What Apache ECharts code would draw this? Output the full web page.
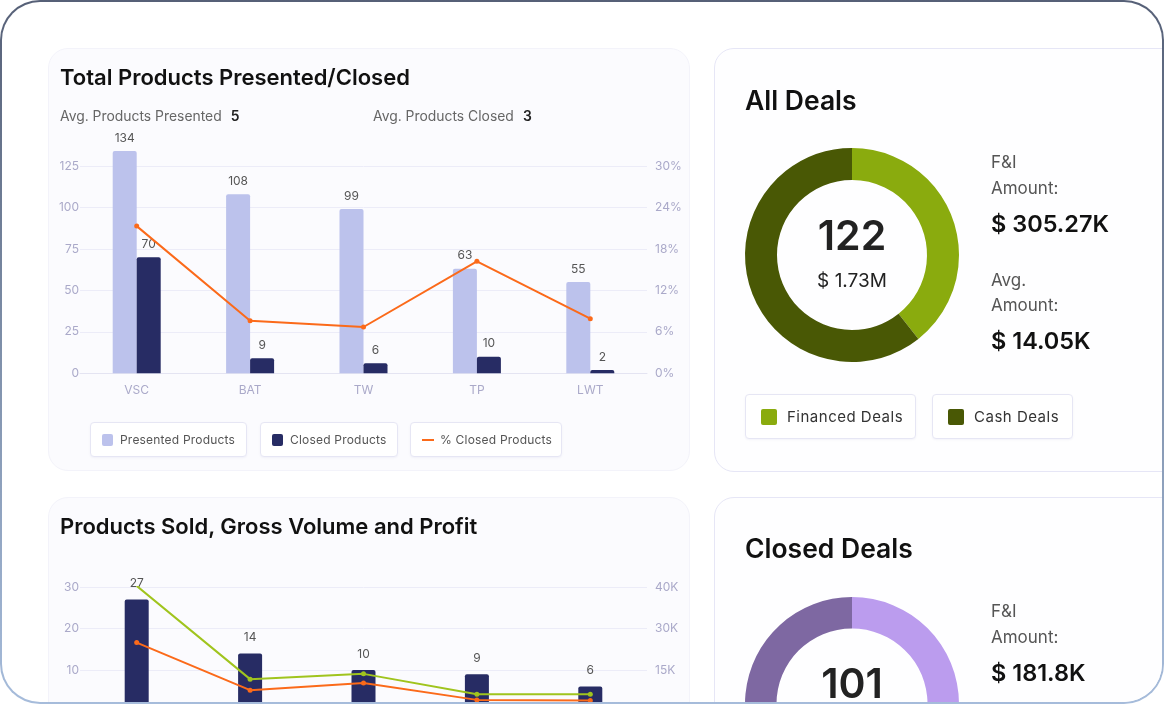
<!DOCTYPE html>
<html><head><meta charset="utf-8">
<script src="https://cdn.jsdelivr.net/npm/echarts/dist/echarts.min.js"></script>
<style>
html,body{margin:0;padding:0;width:1164px;height:704px;overflow:hidden;background:#fff;font-family:Inter,Roboto,sans-serif;}
#frame{position:absolute;left:0;top:0;width:1164px;height:704px;box-sizing:border-box;border-radius:40px;background:linear-gradient(#566077,#7f90aa 50%,#a6bcdb);padding:2px;}
#inner{position:relative;width:100%;height:100%;border-radius:38px;background:#fff;overflow:hidden;}
#page{position:absolute;left:-2px;top:-2px;width:1164px;height:704px;}
#chart{position:absolute;left:0;top:0;width:1164px;height:800px;}
.t{position:absolute;white-space:nowrap;}
.panel{position:absolute;border-radius:20px;box-sizing:border-box;}
.lg{position:absolute;box-sizing:border-box;border:1px solid #e6e6f4;border-radius:4px;background:#fff;box-shadow:0 1px 2px rgba(120,120,180,0.08);}
.lg .ic{position:absolute;}
.lg .tx{position:absolute;white-space:nowrap;color:#555;}
</style></head>
<body>
<div id="frame"><div id="inner"><div id="page">
  <div class="panel" style="left:48px;top:48px;width:642px;height:423px;background:#fbfbfe;border:1px solid #f3f3fa;"></div>
  <div class="panel" style="left:714px;top:48px;width:480px;height:424px;background:#fefeff;border:1px solid #e6e6f6;"></div>
  <div class="panel" style="left:48px;top:497px;width:642px;height:300px;background:#fbfbfe;border:1px solid #f3f3fa;"></div>
  <div class="panel" style="left:714px;top:497px;width:480px;height:300px;background:#fefeff;border:1px solid #e6e6f6;"></div>

  <div id="chart"></div>

  <div class="t" style="left:60px;top:62px;line-height:30px;font-size:22px;font-weight:600;color:#111;">Total Products Presented/Closed</div>
  <div class="t" style="left:60px;top:106px;line-height:20px;font-size:13.9px;color:#666;">Avg. Products Presented<span style="color:#222;font-weight:600;margin-left:9px;">5</span></div>
  <div class="t" style="left:373px;top:106px;line-height:20px;font-size:13.9px;color:#666;">Avg. Products Closed<span style="color:#222;font-weight:600;margin-left:9px;">3</span></div>

  <div class="lg" style="left:90px;top:422px;width:157px;height:35px;">
    <div class="ic" style="left:11px;top:11px;width:11px;height:12px;background:#bcc2ec;border-radius:2px;"></div>
    <div class="tx" style="left:29px;top:8px;line-height:18px;font-size:12px;letter-spacing:0.2px;">Presented Products</div>
  </div>
  <div class="lg" style="left:260px;top:422px;width:138px;height:35px;">
    <div class="ic" style="left:11px;top:11px;width:11px;height:12px;background:#272c64;border-radius:2px;"></div>
    <div class="tx" style="left:29px;top:8px;line-height:18px;font-size:12px;letter-spacing:0.2px;">Closed Products</div>
  </div>
  <div class="lg" style="left:410px;top:422px;width:152px;height:35px;">
    <div class="ic" style="left:11px;top:16px;width:12px;height:2px;background:#fb6a1a;"></div>
    <div class="tx" style="left:29px;top:8px;line-height:18px;font-size:12px;letter-spacing:0.2px;">% Closed Products</div>
  </div>

  <div class="t" style="left:60px;top:511px;line-height:30px;font-size:22px;font-weight:600;color:#111;">Products Sold, Gross Volume and Profit</div>

  <div class="t" style="left:745px;top:83px;line-height:34px;font-size:26.5px;font-weight:600;color:#111;">All Deals</div>
  <div class="t" style="left:752px;top:210px;width:200px;text-align:center;line-height:50px;font-size:41px;font-weight:600;color:#222;">122</div>
  <div class="t" style="left:752px;top:268px;width:200px;text-align:center;line-height:26px;font-size:19px;color:#222;">$ 1.73M</div>
  <div class="t" style="left:991px;top:150px;line-height:24px;font-size:17px;color:#555;">F&amp;I</div>
  <div class="t" style="left:991px;top:176px;line-height:24px;font-size:17px;color:#555;">Amount:</div>
  <div class="t" style="left:991px;top:208px;line-height:32px;font-size:23.5px;font-weight:600;color:#111;">$ 305.27K</div>
  <div class="t" style="left:991px;top:268px;line-height:24px;font-size:17px;color:#555;">Avg.</div>
  <div class="t" style="left:991px;top:293px;line-height:24px;font-size:17px;color:#555;">Amount:</div>
  <div class="t" style="left:991px;top:325px;line-height:32px;font-size:23.5px;font-weight:600;color:#111;">$ 14.05K</div>

  <div class="lg" style="left:745px;top:394px;width:171px;height:45px;">
    <div class="ic" style="left:15px;top:14px;width:16px;height:16px;background:#8aab0e;border-radius:2px;"></div>
    <div class="tx" style="left:41px;top:11px;line-height:22px;font-size:15px;letter-spacing:0.5px;color:#333;">Financed Deals</div>
  </div>
  <div class="lg" style="left:932px;top:394px;width:141px;height:45px;">
    <div class="ic" style="left:15px;top:14px;width:16px;height:16px;background:#495805;border-radius:2px;"></div>
    <div class="tx" style="left:41px;top:11px;line-height:22px;font-size:15px;letter-spacing:0.5px;color:#333;">Cash Deals</div>
  </div>

  <div class="t" style="left:745px;top:531px;line-height:34px;font-size:26.5px;font-weight:600;color:#111;">Closed Deals</div>
  <div class="t" style="left:752px;top:658px;width:200px;text-align:center;line-height:50px;font-size:41px;font-weight:600;color:#222;">101</div>
  <div class="t" style="left:991px;top:599px;line-height:24px;font-size:17px;color:#555;">F&amp;I</div>
  <div class="t" style="left:991px;top:625px;line-height:24px;font-size:17px;color:#555;">Amount:</div>
  <div class="t" style="left:991px;top:657px;line-height:32px;font-size:23.5px;font-weight:600;color:#111;">$ 181.8K</div>
</div></div></div>
<script>
const categories = ['VSC','BAT','TW','TP','LWT'];
const presented = [134,108,99,63,55];
const closed = [70,9,6,10,2];
const pctClosed = [21.3,7.6,6.7,16.2,7.9];
const categories2 = ['VSC','BAT','TW','TP','LWT'];
const sold = [27,14,10,9,6];
const grossVolume = [45400,11700,13600,6200,6200];
const profit = [24900,7700,10300,4200,4000];
const rightTicks2 = ['0','15K','30K','40K'];
const allDealsNames = ['Financed Deals','Cash Deals'];
const allDealsValues = [48,74];
const closedDealsNames = ['Financed Deals','Cash Deals'];
const closedDealsValues = [52,49];

const axisLab = {color:'#aaa9c9',fontSize:12,fontFamily:'Inter'};
const split = {lineStyle:{color:'#ececf8',width:1}};
const barLabel = {show:true,position:'top',distance:7,color:'#555',fontSize:12,fontFamily:'Inter'};
const barLabel2 = Object.assign({}, barLabel, {distance:10});

const chart = echarts.init(document.getElementById('chart'));
chart.setOption({
  animation:false,
  grid:[
    {left:80,top:166,width:567,height:207.3},
    {left:80,top:587,width:567,height:124.5}
  ],
  xAxis:[
    {type:'category',gridIndex:0,data:categories,axisTick:{show:false},axisLine:{lineStyle:{color:'#e4e4f2'}},axisLabel:Object.assign({margin:11},axisLab)},
    {type:'category',gridIndex:1,data:categories2,axisTick:{show:false},axisLine:{lineStyle:{color:'#e4e4f2'}},axisLabel:Object.assign({margin:11},axisLab)}
  ],
  yAxis:[
    {type:'value',gridIndex:0,min:0,max:125,interval:25,axisLabel:Object.assign({margin:1},axisLab),splitLine:split,axisLine:{show:false}},
    {type:'value',gridIndex:0,position:'right',min:0,max:30,interval:6,axisLabel:Object.assign({margin:8,formatter:'{value}%'},axisLab),splitLine:{show:false},axisLine:{show:false}},
    {type:'value',gridIndex:1,min:0,max:30,interval:10,axisLabel:Object.assign({margin:1},axisLab),splitLine:split,axisLine:{show:false}},
    {type:'value',gridIndex:1,position:'right',min:0,max:45000,interval:15000,axisLabel:Object.assign({margin:8,formatter:v=>rightTicks2[Math.round(v/15000)]},axisLab),splitLine:{show:false},axisLine:{show:false}}
  ],
  series:[
    {name:'Presented Products',type:'bar',xAxisIndex:0,yAxisIndex:0,data:presented,barWidth:24,barGap:'0%',clip:false,itemStyle:{color:'#bcc2ec',borderRadius:[2,2,0,0]},label:barLabel},
    {name:'Closed Products',type:'bar',xAxisIndex:0,yAxisIndex:0,data:closed,barWidth:24,barGap:'0%',clip:false,itemStyle:{color:'#272c64',borderRadius:[2,2,0,0]},label:barLabel},
    {name:'% Closed Products',type:'line',xAxisIndex:0,yAxisIndex:1,data:pctClosed,symbol:'circle',symbolSize:5,lineStyle:{color:'#fb6a1a',width:2},itemStyle:{color:'#fb6a1a'}},
    {name:'Products Sold',type:'bar',xAxisIndex:1,yAxisIndex:2,data:sold,barWidth:24,clip:false,itemStyle:{color:'#272c64',borderRadius:[2,2,0,0]},label:barLabel2},
    {name:'Gross Volume',type:'line',xAxisIndex:1,yAxisIndex:3,data:grossVolume,symbol:'circle',symbolSize:5,lineStyle:{color:'#a0c41e',width:2},itemStyle:{color:'#a0c41e'}},
    {name:'Profit',type:'line',xAxisIndex:1,yAxisIndex:3,data:profit,symbol:'circle',symbolSize:5,lineStyle:{color:'#fb6a1a',width:2},itemStyle:{color:'#fb6a1a'}},
    {name:'All Deals',type:'pie',center:[852,255],radius:[75,107],startAngle:90,clockwise:true,label:{show:false},labelLine:{show:false},emphasis:{disabled:true},
      data:allDealsNames.map((n,i)=>({name:n,value:allDealsValues[i],itemStyle:{color:['#8aab0e','#495805'][i]}}))},
    {name:'Closed Deals',type:'pie',center:[852,704],radius:[75.5,107],startAngle:90,clockwise:true,label:{show:false},labelLine:{show:false},emphasis:{disabled:true},
      data:closedDealsNames.map((n,i)=>({name:n,value:closedDealsValues[i],itemStyle:{color:['#bb9cee','#7e68a2'][i]}}))}
  ]
});
</script>
</body></html>
